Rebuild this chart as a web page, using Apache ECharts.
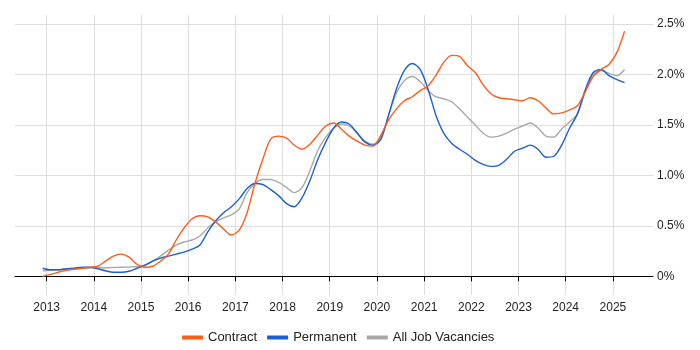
<!DOCTYPE html>
<html>
<head>
<meta charset="utf-8">
<script src="https://cdn.jsdelivr.net/npm/echarts@6/dist/echarts.min.js"></script>
<style>
  html, body { margin: 0; padding: 0; background: #fff; }
  #chart { width: 700px; height: 350px; }
</style>
</head>
<body>
<div id="chart"></div>
<script>
// every second month, Dec 2012 .. Apr 2025
var months = [];
for (var i = 0; i < 75; i++) {
  var m = 11 + i * 2; // months since Jan 2012
  var y = 2012 + Math.floor(m / 12);
  var mm = (m % 12) + 1;
  months.push(y + '-' + (mm < 10 ? '0' + mm : mm) + '-01');
}

var contract = [
  0.00, 0.02, 0.04, 0.06, 0.07, 0.08, 0.09,
  0.10, 0.15, 0.20, 0.22, 0.19, 0.12,
  0.09, 0.10, 0.15, 0.22, 0.36, 0.48,
  0.57, 0.60, 0.59, 0.54, 0.47, 0.41,
  0.46, 0.63, 0.92, 1.16, 1.36, 1.39,
  1.37, 1.30, 1.26, 1.31, 1.40, 1.49,
  1.52, 1.46, 1.39, 1.34, 1.30, 1.29,
  1.40, 1.55, 1.66, 1.74, 1.78, 1.84,
  1.89, 1.99, 2.12, 2.19, 2.18, 2.09,
  2.02, 1.90, 1.81, 1.77, 1.76, 1.75,
  1.74, 1.77, 1.74, 1.67, 1.61, 1.62,
  1.65, 1.69, 1.83, 1.98, 2.05, 2.10,
  2.22, 2.43
];

var permanent = [
  0.08, 0.065, 0.065, 0.075, 0.08, 0.09, 0.09,
  0.075, 0.055, 0.04, 0.04, 0.05, 0.08,
  0.11, 0.15, 0.18, 0.20, 0.22, 0.24,
  0.27, 0.31, 0.44, 0.55, 0.63, 0.69,
  0.77, 0.87, 0.92, 0.91, 0.86, 0.80,
  0.72, 0.69, 0.78, 0.95, 1.16, 1.33,
  1.47, 1.53, 1.51, 1.42, 1.33, 1.30,
  1.36, 1.60, 1.86, 2.04, 2.11, 2.05,
  1.85, 1.60, 1.42, 1.32, 1.26, 1.21,
  1.15, 1.11, 1.09, 1.10, 1.16, 1.24,
  1.27, 1.30, 1.26, 1.18, 1.19, 1.30,
  1.47, 1.61, 1.85, 2.02, 2.05, 1.99,
  1.95, 1.92
];

var allJobs = [
  0.056, 0.06, 0.065, 0.07, 0.075, 0.08, 0.083,
  0.085, 0.085, 0.087, 0.09, 0.093, 0.097,
  0.11, 0.15, 0.20, 0.26, 0.31, 0.34,
  0.36, 0.40, 0.48, 0.54, 0.58, 0.61,
  0.67, 0.83, 0.92, 0.96, 0.96, 0.93,
  0.88, 0.83, 0.88, 1.05, 1.25, 1.38,
  1.47, 1.51, 1.49, 1.42, 1.34, 1.31,
  1.38, 1.60, 1.82, 1.94, 1.98, 1.93,
  1.84, 1.78, 1.76, 1.73, 1.66, 1.58,
  1.50, 1.42, 1.38, 1.39, 1.42, 1.46,
  1.49, 1.52, 1.47, 1.39, 1.38, 1.46,
  1.53, 1.61, 1.83, 2.00, 2.04, 2.01,
  1.99, 2.05
];

function pairs(vals) {
  return vals.map(function (v, i) { return [months[i], v]; });
}

var YEAR = 365.25 * 24 * 3600 * 1000;
var font = 'Liberation Sans, Arial, sans-serif';

var chart = echarts.init(document.getElementById('chart'));
chart.setOption({
  animation: false,
  grid: { left: 15, right: 47, top: 15, bottom: 55, containLabel: false },
  legend: {
    bottom: 1,
    left: 177,
    icon: 'rect',
    itemWidth: 21,
    itemHeight: 4,
    itemGap: 10,
    data: ['Contract', 'Permanent', 'All Job Vacancies'],
    textStyle: { fontSize: 13, color: '#222', fontFamily: font }
  },
  xAxis: {
    type: 'time',
    min: '2012-05-01',
    max: '2025-11-07',
    minInterval: YEAR,
    maxInterval: YEAR,
    axisLine: { lineStyle: { color: '#000', width: 1 } },
    axisTick: { show: true, length: 5, lineStyle: { color: '#000' } },
    axisLabel: {
      formatter: '{yyyy}',
      color: '#222',
      fontSize: 12,
      fontFamily: font,
      margin: 7,
      showMinLabel: false,
      showMaxLabel: false
    },
    splitLine: { show: true, showMinLine: false, showMaxLine: false, lineStyle: { color: '#dddddd' } }
  },
  yAxis: {
    type: 'value',
    position: 'right',
    min: -0.185,
    max: 2.59,
    minInterval: 0.5,
    maxInterval: 0.5,
    axisLine: { show: false },
    axisTick: { show: false },
    axisLabel: {
      color: '#222',
      fontSize: 12,
      fontFamily: font,
      margin: 4,
      formatter: function (v) {
        var k = v / 0.5;
        if (Math.abs(k - Math.round(k)) > 1e-6) return '';
        return v === 0 ? '0%' : v.toFixed(1) + '%';
      }
    },
    splitLine: { show: true, showMinLine: false, showMaxLine: false, lineStyle: { color: '#dddddd' } }
  },
  series: [
    {
      name: 'All Job Vacancies',
      type: 'line',
      data: pairs(allJobs),
      showSymbol: false,
      smooth: 0.3,
      color: '#a8a8a8',
      lineStyle: { width: 1.4 }
    },
    {
      name: 'Permanent',
      type: 'line',
      data: pairs(permanent),
      showSymbol: false,
      smooth: 0.3,
      color: '#1a5fd6',
      lineStyle: { width: 1.4 }
    },
    {
      name: 'Contract',
      type: 'line',
      data: pairs(contract),
      showSymbol: false,
      smooth: 0.3,
      color: '#ff5c1a',
      lineStyle: { width: 1.4 }
    }
  ]
});
</script>
</body>
</html>
